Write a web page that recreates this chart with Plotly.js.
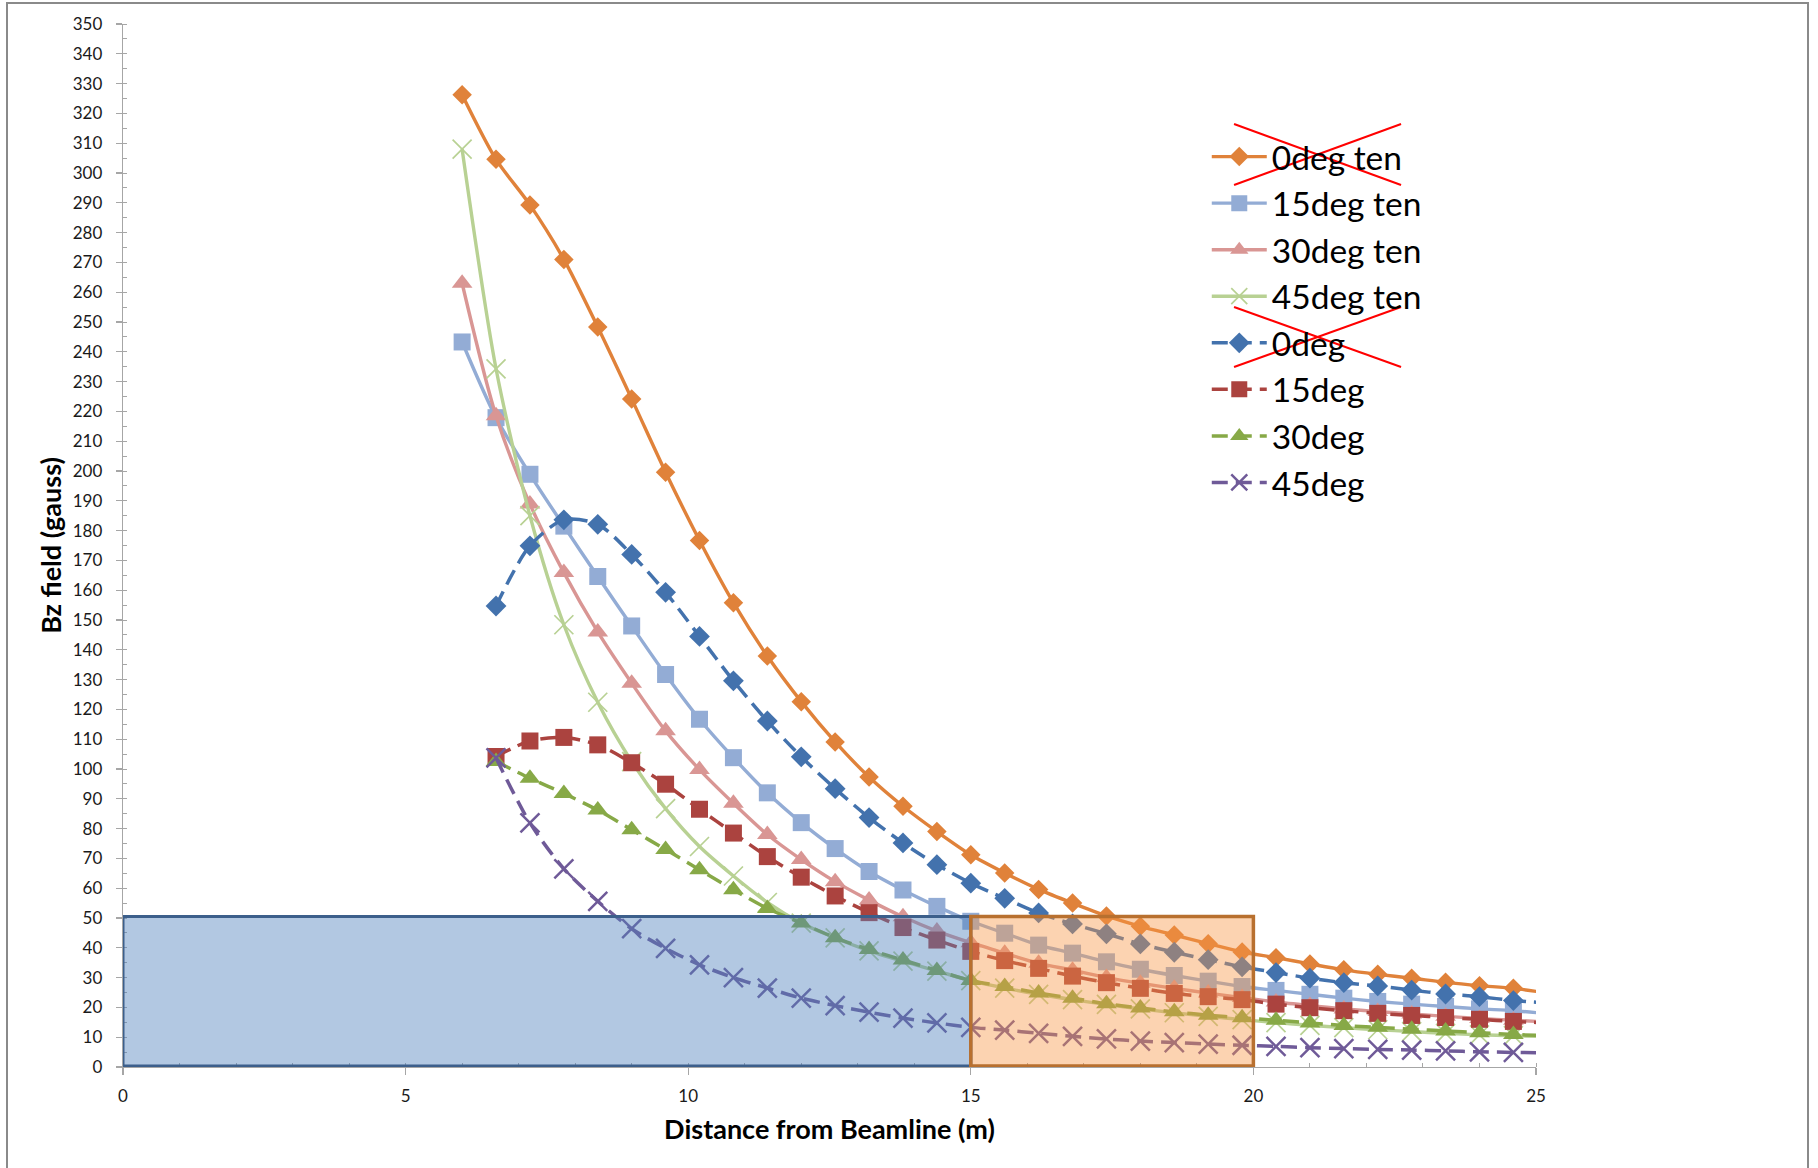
<!DOCTYPE html>
<html>
<head>
<meta charset="utf-8">
<script src="https://cdn.plot.ly/plotly-3.0.1.min.js"></script>
<style>
  html, body { margin: 0; padding: 0; background: #ffffff; overflow: hidden; }
  #chart { position: absolute; left: 0; top: 0; width: 1818px; height: 1168px; }
  #frame { position: absolute; left: 6px; top: 2px; width: 1799px; height: 1300px;
           border: 2px solid #8a8a8a; pointer-events: none; }
</style>
</head>
<body>
<div id="chart"></div>
<div id="frame"></div>
<script>
// ---- data ----
const xTen = [6.0, 6.6, 7.2, 7.8, 8.4, 9.0, 9.6, 10.2, 10.8, 11.4, 12.0, 12.6, 13.2, 13.8, 14.4, 15.0,
              15.6, 16.2, 16.8, 17.4, 18.0, 18.6, 19.2, 19.8, 20.4, 21.0, 21.6, 22.2, 22.8, 23.4, 24.0, 24.6, 25.2];
const xDeg = [6.6, 7.2, 7.8, 8.4, 9.0, 9.6, 10.2, 10.8, 11.4, 12.0, 12.6, 13.2, 13.8, 14.4, 15.0,
              15.6, 16.2, 16.8, 17.4, 18.0, 18.6, 19.2, 19.8, 20.4, 21.0, 21.6, 22.2, 22.8, 23.4, 24.0, 24.6, 25.2];

const deg0Ten  = [326.3, 304.6, 289.3, 271.0, 248.3, 224.2, 199.6, 176.7, 155.8, 137.9, 122.6, 109.1, 97.3, 87.5, 79.0, 71.2,
                  65.1, 59.6, 55.0, 50.7, 47.2, 44.3, 41.4, 38.6, 36.7, 34.6, 32.6, 31.1, 29.8, 28.4, 27.3, 26.4, 24.8];
const deg15Ten = [243.3, 217.9, 198.9, 181.5, 164.6, 148.0, 131.7, 116.7, 103.8, 92.0, 82.0, 73.3, 65.6, 59.4, 53.9, 48.9,
                  44.9, 40.9, 38.2, 35.3, 32.8, 30.7, 28.8, 27.0, 25.7, 24.4, 23.1, 22.0, 21.1, 20.3, 19.5, 18.9, 17.9];
const deg30Ten = [263.0, 218.5, 188.9, 165.9, 146.0, 128.8, 112.8, 99.8, 88.5, 78.0, 69.6, 62.2, 56.0, 50.4, 45.6, 41.7,
                  38.2, 34.8, 32.5, 30.0, 28.1, 26.4, 24.8, 23.3, 21.8, 20.6, 19.5, 18.6, 17.8, 17.0, 16.3, 15.7, 15.1];
const deg45Ten = [308.0, 234.3, 185.0, 148.4, 122.4, 102.5, 86.7, 74.0, 64.1, 55.2, 48.3, 43.3, 39.0, 35.5, 32.2, 29.0,
                  26.5, 24.4, 22.6, 21.0, 19.5, 18.2, 17.0, 15.9, 14.9, 14.0, 13.2, 12.5, 11.9, 11.3, 10.8, 10.5, 10.2];

const deg0  = [154.7, 174.9, 183.6, 182.1, 172.0, 159.3, 144.5, 129.6, 116.1, 104.1, 93.4, 83.7, 75.2, 67.9, 61.7,
               56.6, 51.7, 48.0, 44.7, 41.3, 38.5, 36.0, 33.6, 31.7, 29.8, 28.3, 27.2, 25.8, 24.5, 23.6, 22.3, 21.5];
const deg15 = [104.2, 109.4, 110.6, 108.1, 102.1, 94.9, 86.5, 78.5, 70.6, 63.7, 57.4, 51.8, 46.8, 42.6, 38.8,
               35.7, 33.1, 30.5, 28.3, 26.4, 24.7, 23.6, 22.6, 21.1, 19.9, 18.9, 18.0, 17.3, 16.6, 16.0, 15.3, 14.8];
const deg30 = [102.5, 96.9, 91.8, 86.2, 79.6, 73.0, 66.2, 59.5, 53.2, 48.3, 43.4, 39.4, 35.9, 32.4, 29.0,
               27.0, 24.8, 23.1, 21.2, 19.8, 18.5, 17.4, 16.5, 15.7, 14.8, 13.9, 13.3, 12.7, 12.1, 11.5, 10.9, 10.5];
const deg45 = [103.7, 81.9, 66.5, 55.6, 46.4, 39.8, 34.3, 30.0, 26.5, 23.1, 20.6, 18.4, 16.4, 14.8, 13.3,
               12.4, 11.3, 10.3, 9.4, 8.7, 8.2, 7.7, 7.3, 6.9, 6.5, 6.2, 5.9, 5.7, 5.4, 5.1, 4.9, 4.7];

const seriesNames = ["0deg ten", "15deg ten", "30deg ten", "45deg ten", "0deg", "15deg", "30deg", "45deg"];

// highlighted regions: [x0, x1] in metres, bottom/top in gauss
const regionBlueX = [0, 15];
const regionOrangeX = [15, 20];
const regionY = [0.3, 50.5];

const xTitle = "Distance from Beamline (m)";
const yTitle = "Bz field (gauss)";

// ---- styles ----
const FONT = "Lato, 'Open Sans', sans-serif";
const DASH = "16px,8px";

function solid(x, y, name, color, symbol, size, mline) {
  return {
    x: x, y: y, name: name, type: "scatter", mode: "lines+markers",
    line: { color: color, width: 3.4, shape: "spline", smoothing: 0.8 },
    marker: { symbol: symbol, size: size, color: color,
              line: { color: color, width: mline || 0 } }
  };
}
function dashed(x, y, name, color, symbol, size, mline) {
  return {
    x: x, y: y, name: name, type: "scatter", mode: "lines+markers",
    line: { color: color, width: 3.5, dash: DASH, shape: "spline", smoothing: 0.8 },
    marker: { symbol: symbol, size: size, color: color,
              line: { color: color, width: mline || 0 } }
  };
}

const traces = [
  solid(xTen, deg0Ten, seriesNames[0], "#e0823a", "diamond", 15),
  solid(xTen, deg15Ten, seriesNames[1], "#93acd5", "square", 17),
  solid(xTen, deg30Ten, seriesNames[2], "#d99694", "triangle-up", 18),
  solid(xTen, deg45Ten, seriesNames[3], "#b8d193", "x-thin", 19, 1.7),
  dashed(xDeg, deg0, seriesNames[4], "#4372ad", "diamond", 16),
  dashed(xDeg, deg15, seriesNames[5], "#ab433f", "square", 17),
  dashed(xDeg, deg30, seriesNames[6], "#87a947", "triangle-up", 18),
  dashed(xDeg, deg45, seriesNames[7], "#6f5a98", "x-thin", 19, 2.5)
];

const shapes = [
  { type: "rect", xref: "x", yref: "y", x0: regionBlueX[0], x1: regionBlueX[1], y0: regionY[0], y1: regionY[1],
    fillcolor: "#4f81bd", opacity: 0.44, line: { width: 0 }, layer: "above" },
  { type: "rect", xref: "x", yref: "y", x0: regionOrangeX[0], x1: regionOrangeX[1], y0: regionY[0], y1: regionY[1],
    fillcolor: "#f79646", opacity: 0.42, line: { width: 0 }, layer: "above" },
  { type: "rect", xref: "x", yref: "y", x0: regionBlueX[0], x1: regionBlueX[1], y0: regionY[0], y1: regionY[1],
    fillcolor: "rgba(0,0,0,0)", line: { color: "#3c5f8b", width: 3 }, layer: "above" },
  { type: "rect", xref: "x", yref: "y", x0: regionOrangeX[0], x1: regionOrangeX[1], y0: regionY[0], y1: regionY[1],
    fillcolor: "rgba(0,0,0,0)", line: { color: "#b8702f", width: 3.5 }, layer: "above" },
  // red crosses over the legend entries "0deg ten" and "0deg"
  { type: "line", xref: "paper", yref: "paper", x0: 0.7863, y0: 0.9041, x1: 0.9045, y1: 0.8456, line: { color: "#ff0000", width: 2 }, layer: "above" },
  { type: "line", xref: "paper", yref: "paper", x0: 0.7863, y0: 0.8456, x1: 0.9045, y1: 0.9041, line: { color: "#ff0000", width: 2 }, layer: "above" },
  { type: "line", xref: "paper", yref: "paper", x0: 0.7863, y0: 0.7287, x1: 0.9045, y1: 0.6711, line: { color: "#ff0000", width: 2 }, layer: "above" },
  { type: "line", xref: "paper", yref: "paper", x0: 0.7863, y0: 0.6711, x1: 0.9045, y1: 0.7287, line: { color: "#ff0000", width: 2 }, layer: "above" }
];

const layout = {
  width: 1818, height: 1168,
  margin: { l: 123, r: 282, t: 24, b: 101, pad: 0 },
  paper_bgcolor: "rgba(0,0,0,0)",
  plot_bgcolor: "rgba(0,0,0,0)",
  font: { family: FONT, color: "#1a1a1a" },
  showlegend: true,
  legend: {
    x: 0.767, y: 0.900, xanchor: "left", yanchor: "top",
    font: { family: FONT, size: 33.5, color: "#000000" },
    bgcolor: "rgba(0,0,0,0)", borderwidth: 0,
    itemwidth: 55, tracegroupgap: 0
  },
  xaxis: {
    range: [0, 25], dtick: 5, tick0: 0,
    showgrid: false, zeroline: false,
    showline: true, linecolor: "#a6a6a6", linewidth: 1.3,
    ticks: "outside", ticklen: 7, tickcolor: "#a6a6a6", tickwidth: 1.3,
    minor: { dtick: 1, ticks: "inside", ticklen: 4, tickcolor: "#a6a6a6", tickwidth: 1, showgrid: false },
    tickfont: { family: FONT, size: 17, color: "#1a1a1a" },
    ticklabelstandoff: 6,
    title: { text: xTitle, font: { family: FONT, size: 27, color: "#000000", weight: "bold" }, standoff: 15 },
    automargin: false
  },
  yaxis: {
    range: [0, 350], dtick: 10, tick0: 0,
    showgrid: false, zeroline: false,
    showline: true, linecolor: "#a6a6a6", linewidth: 1.3,
    ticks: "outside", ticklen: 6, tickcolor: "#a6a6a6", tickwidth: 1.3,
    minor: { dtick: 5, ticks: "inside", ticklen: 4, tickcolor: "#a6a6a6", tickwidth: 1, showgrid: false },
    tickfont: { family: FONT, size: 17, color: "#1a1a1a" },
    ticklabelstandoff: 10,
    title: { text: yTitle, font: { family: FONT, size: 27, color: "#000000", weight: "bold" }, standoff: 3 },
    automargin: false
  },
  shapes: shapes
};

Plotly.newPlot("chart", traces, layout, { displayModeBar: false, staticPlot: true });
</script>
</body>
</html>
